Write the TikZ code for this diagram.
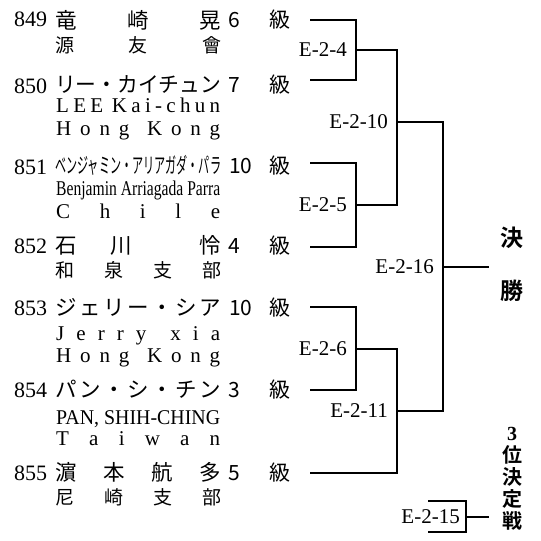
\documentclass[tikz,border=0pt]{standalone}
\usepackage{fontspec}
\usepackage{graphicx}
\usetikzlibrary{positioning}
\setmainfont{Liberation Serif}
\newfontfamily\jp{Noto Sans CJK JP}
\newfontfamily\jpbold{Noto Sans CJK JP Bold}

\begin{document}
\begin{tikzpicture}[x=1pt,y=-1pt,
      num/.style={anchor=base west,inner sep=0pt,font=\fontsize{22}{22}\selectfont},
      pname/.style={anchor=base west,inner sep=0pt,font=\jp\fontsize{21.5}{21.5}\selectfont},
      club/.style={anchor=base west,inner sep=0pt,font=\jp\fontsize{19}{19}\selectfont},
      roman/.style={anchor=base west,inner sep=0pt,font=\fontsize{21}{21}\selectfont},
      grade/.style={anchor=base west,inner sep=0pt,font=\jp\fontsize{21}{21}\selectfont},
      match/.style={anchor=east,inner ysep=0pt,inner xsep=9pt,font=\fontsize{21}{21}\selectfont},
      bracket/.style={line width=1.2pt}]
      \useasboundingbox (0,0) rectangle (541,541);
      % players
      \node[num] (n849) at (14,26) {849};
      \node[pname] (nm849) at (55,28) {\makebox[166pt][s]{竜\hfill 崎\hfill 晃}};
      \node[club] (c849) at (55,52) {\makebox[166pt][s]{源\hfill 友\hfill 會}};
      \node[grade] (g849) at (228,27) {\makebox[62pt][s]{6\hfill 級}};
      \node[num] (n850) at (14,93) {850};
      \node[pname] (nm850) at (55,92.5) {\resizebox{166pt}{\height}{リー・カイチュン}};
      \node[roman] (e850) at (56,112) {\makebox[164pt][s]{L\hfill E\hfill E\hfill\hfill K\hfill a\hfill i\hfill -\hfill c\hfill h\hfill u\hfill n}};
      \node[roman] (t850) at (56,135) {\makebox[164pt][s]{H\hfill o\hfill n\hfill g\hfill\hfill K\hfill o\hfill n\hfill g}};
      \node[grade] (g850) at (228,92.5) {\makebox[62pt][s]{7\hfill 級}};
      \node[num] (n851) at (14,174) {851};
      \node[pname] (nm851) at (55,173.5) {\resizebox{166pt}{\height}{ベンジャミン・アリアガダ・パラ}};
      \node[roman] (e851) at (56,195) {\resizebox{164pt}{\height}{Benjamin Arriagada Parra}};
      \node[roman] (t851) at (56,218) {\makebox[164pt][s]{C\hfill h\hfill i\hfill l\hfill e}};
      \node[grade] (g851) at (229,173.5) {\makebox[61pt][s]{10\hfill 級}};
      \node[num] (n852) at (14,253) {852};
      \node[pname] (nm852) at (55,253.5) {\makebox[166pt][s]{石\hfill 川\hfill\hfill 怜}};
      \node[club] (c852) at (55,277) {\makebox[166pt][s]{和\hfill 泉\hfill 支\hfill 部}};
      \node[grade] (g852) at (228,253.5) {\makebox[62pt][s]{4\hfill 級}};
      \node[num] (n853) at (14,315) {853};
      \node[pname] (nm853) at (55,315) {\makebox[166pt][s]{ジ\hfill ェ\hfill リ\hfill ー\hfill ・\hfill シ\hfill ア}};
      \node[roman] (e853) at (56,340) {\makebox[164pt][s]{J\hfill e\hfill r\hfill r\hfill y\hfill\hfill x\hfill i\hfill a}};
      \node[roman] (t853) at (56,362) {\makebox[164pt][s]{H\hfill o\hfill n\hfill g\hfill\hfill K\hfill o\hfill n\hfill g}};
      \node[grade] (g853) at (229,315) {\makebox[61pt][s]{10\hfill 級}};
      \node[num] (n854) at (14,397) {854};
      \node[pname] (nm854) at (55,397.8) {\makebox[166pt][s]{パ\hfill ン\hfill ・\hfill シ\hfill ・\hfill チ\hfill ン}};
      \node[roman] (e854) at (56,424) {\resizebox{164pt}{\height}{PAN, SHIH-CHING}};
      \node[roman] (t854) at (56,445) {\makebox[164pt][s]{T\hfill a\hfill i\hfill w\hfill a\hfill n}};
      \node[grade] (g854) at (228,397.8) {\makebox[62pt][s]{3\hfill 級}};
      \node[num] (n855) at (14,480) {855};
      \node[pname] (nm855) at (55,480) {\makebox[166pt][s]{濵\hfill 本\hfill 航\hfill 多}};
      \node[club] (c855) at (55,504) {\makebox[166pt][s]{尼\hfill 崎\hfill 支\hfill 部}};
      \node[grade] (g855) at (228,480) {\makebox[62pt][s]{5\hfill 級}};
      % bracket ends
      \coordinate (p1) at (310,20);
      \coordinate (p2) at (310,80);
      \coordinate (p3) at (310,163);
      \coordinate (p4) at (310,247);
      \coordinate (p5) at (310,307);
      \coordinate (p6) at (310,390);
      \coordinate (p7) at (310,473);
      \coordinate (t15) at (428,501);
      \coordinate (b15) at (428,532);
      % matches
      \node[match] (m4) at (356,50) {E-2-4};
      \node[match] (m5) at (356,205) {E-2-5};
      \node[match] (m6) at (356,349) {E-2-6};
      \node[match] (m10) at (397,122) {E-2-10};
      \node[match] (m11) at (397,411) {E-2-11};
      \node[match] (m16) at (443,267) {E-2-16};
      \node[match,inner xsep=6pt] (m15) at (466,517) {E-2-15};
      \coordinate (fin) at (489,267);
      \coordinate (third) at (489,517);
      \node[align=center,font=\jpbold\fontsize{23}{53}\selectfont] (final) at (512,264) {決\\勝};
      \node[align=center,font=\jpbold\fontsize{20}{22}\selectfont] (place3) at (512,479) {{\rmfamily\bfseries 3}\\位\\決\\定\\戦};
      \draw[bracket] (p1) -| (m4.east) |- (p2);
      \draw[bracket] (p3) -| (m5.east) |- (p4);
      \draw[bracket] (p5) -| (m6.east) |- (p6);
      \draw[bracket] (m4.east) -| (m10.east) |- (m5.east);
      \draw[bracket] (m6.east) -| (m11.east) |- (p7);
      \draw[bracket] (m10.east) -| (m16.east) |- (m11.east);
      \draw[bracket] (m16.east) -- (fin);
      \draw[bracket] (t15) -| (m15.east) |- (b15);
      \draw[bracket] (m15.east) -- (third);
    \end{tikzpicture}
\end{document}
